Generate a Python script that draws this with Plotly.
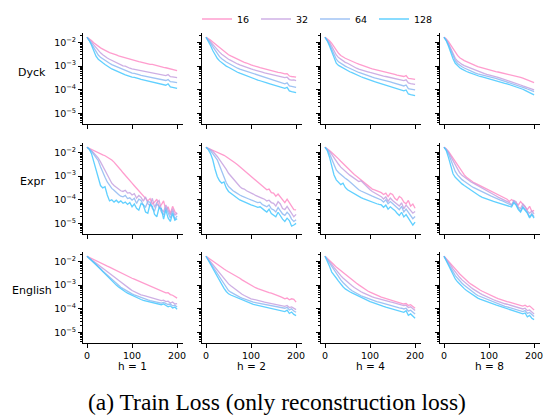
import plotly.graph_objects as go

# ---------------- data (log10 of train loss, every 5 steps) ----------------
steps = list(range(0, 201, 5))
widths = ["16", "32", "64", "128"]
heads = ["h = 1", "h = 2", "h = 4", "h = 8"]
datasets = ["Dyck", "Expr", "English"]
ytick_vals = [1e-5, 1e-4, 1e-3, 1e-2]
ytick_text = ["10<sup>−5</sup>", "10<sup>−4</sup>", "10<sup>−3</sup>", "10<sup>−2</sup>"]
xtick_vals = [0, 100, 200]

dyck_h1_16 = [-1.78,-1.84,-1.92,-2.01,-2.09,-2.16,-2.23,-2.28,-2.34,-2.38,-2.43,-2.46,-2.51,-2.53,-2.57,-2.60,-2.62,-2.66,-2.68,-2.72,-2.73,-2.77,-2.78,-2.81,-2.83,-2.86,-2.87,-2.90,-2.93,-2.93,-2.96,-2.99,-3.00,-3.04,-3.05,-3.07,-3.09,-3.12,-3.15,-3.16,-3.19]
dyck_h1_32 = [-1.78,-1.87,-1.98,-2.10,-2.22,-2.34,-2.44,-2.52,-2.60,-2.66,-2.71,-2.76,-2.82,-2.86,-2.91,-2.95,-2.99,-3.00,-3.06,-3.09,-3.12,-3.14,-3.16,-3.15,-3.19,-3.21,-3.22,-3.25,-3.27,-3.28,-3.30,-3.33,-3.34,-3.36,-3.38,-3.40,-3.36,-3.45,-3.46,-3.47,-3.49]
dyck_h1_64 = [-1.78,-1.90,-2.06,-2.22,-2.38,-2.53,-2.63,-2.70,-2.77,-2.83,-2.88,-2.94,-2.98,-3.04,-3.08,-3.13,-3.15,-3.20,-3.24,-3.26,-3.30,-3.31,-3.35,-3.36,-3.39,-3.41,-3.42,-3.46,-3.47,-3.49,-3.51,-3.54,-3.55,-3.58,-3.60,-3.61,-3.57,-3.66,-3.67,-3.68,-3.70]
dyck_h1_128 = [-1.78,-1.92,-2.12,-2.35,-2.58,-2.71,-2.80,-2.86,-2.93,-3.00,-3.05,-3.12,-3.16,-3.21,-3.26,-3.30,-3.33,-3.37,-3.41,-3.44,-3.47,-3.48,-3.52,-3.53,-3.56,-3.58,-3.61,-3.63,-3.66,-3.68,-3.70,-3.73,-3.74,-3.77,-3.79,-3.81,-3.75,-3.88,-3.90,-3.91,-3.94]

dyck_h2_16 = [-1.78,-1.83,-1.90,-1.98,-2.06,-2.14,-2.23,-2.31,-2.39,-2.46,-2.52,-2.57,-2.62,-2.67,-2.72,-2.77,-2.80,-2.84,-2.87,-2.92,-2.95,-2.98,-2.99,-3.03,-3.06,-3.09,-3.12,-3.15,-3.17,-3.20,-3.23,-3.25,-3.27,-3.28,-3.31,-3.33,-3.32,-3.42,-3.44,-3.44,-3.47]
dyck_h2_32 = [-1.78,-1.86,-1.97,-2.08,-2.20,-2.31,-2.41,-2.50,-2.58,-2.65,-2.71,-2.76,-2.82,-2.86,-2.91,-2.95,-2.99,-3.02,-3.05,-3.09,-3.12,-3.15,-3.17,-3.21,-3.23,-3.26,-3.29,-3.31,-3.34,-3.37,-3.40,-3.41,-3.43,-3.45,-3.47,-3.49,-3.47,-3.57,-3.59,-3.58,-3.61]
dyck_h2_64 = [-1.78,-1.89,-2.03,-2.18,-2.34,-2.48,-2.60,-2.69,-2.77,-2.83,-2.88,-2.94,-2.99,-3.04,-3.09,-3.13,-3.16,-3.20,-3.23,-3.27,-3.30,-3.33,-3.35,-3.39,-3.41,-3.44,-3.48,-3.51,-3.54,-3.57,-3.61,-3.63,-3.66,-3.69,-3.72,-3.75,-3.71,-3.84,-3.86,-3.87,-3.90]
dyck_h2_128 = [-1.78,-1.93,-2.13,-2.34,-2.53,-2.67,-2.78,-2.86,-2.93,-3.00,-3.05,-3.11,-3.16,-3.21,-3.26,-3.30,-3.34,-3.38,-3.42,-3.45,-3.49,-3.52,-3.56,-3.59,-3.62,-3.66,-3.69,-3.71,-3.74,-3.77,-3.80,-3.83,-3.85,-3.88,-3.91,-3.94,-3.90,-4.05,-4.08,-4.09,-4.12]

dyck_h4_16 = [-1.78,-1.84,-1.93,-2.04,-2.18,-2.34,-2.46,-2.55,-2.62,-2.67,-2.71,-2.76,-2.80,-2.85,-2.88,-2.92,-2.96,-2.99,-3.02,-3.06,-3.09,-3.12,-3.14,-3.17,-3.20,-3.23,-3.24,-3.26,-3.29,-3.31,-3.33,-3.35,-3.38,-3.40,-3.42,-3.44,-3.40,-3.52,-3.53,-3.53,-3.56]
dyck_h4_32 = [-1.78,-1.87,-2.00,-2.16,-2.35,-2.53,-2.64,-2.72,-2.78,-2.84,-2.88,-2.94,-2.99,-3.04,-3.09,-3.13,-3.15,-3.18,-3.21,-3.24,-3.27,-3.30,-3.33,-3.35,-3.38,-3.40,-3.42,-3.44,-3.46,-3.47,-3.49,-3.52,-3.54,-3.57,-3.59,-3.61,-3.58,-3.71,-3.74,-3.74,-3.77]
dyck_h4_64 = [-1.78,-1.90,-2.07,-2.28,-2.51,-2.71,-2.82,-2.89,-2.95,-3.00,-3.05,-3.10,-3.14,-3.19,-3.23,-3.27,-3.30,-3.34,-3.37,-3.41,-3.44,-3.47,-3.50,-3.52,-3.55,-3.58,-3.60,-3.63,-3.65,-3.67,-3.70,-3.73,-3.75,-3.78,-3.81,-3.84,-3.80,-3.95,-3.97,-3.98,-4.01]
dyck_h4_128 = [-1.78,-1.93,-2.15,-2.42,-2.68,-2.88,-2.97,-3.03,-3.09,-3.14,-3.19,-3.24,-3.28,-3.33,-3.37,-3.41,-3.45,-3.49,-3.53,-3.57,-3.61,-3.63,-3.66,-3.69,-3.72,-3.75,-3.78,-3.81,-3.84,-3.87,-3.90,-3.93,-3.96,-3.99,-4.02,-4.05,-4.01,-4.18,-4.21,-4.22,-4.25]

dyck_h8_16 = [-1.78,-1.85,-1.97,-2.12,-2.28,-2.43,-2.55,-2.65,-2.72,-2.77,-2.81,-2.86,-2.90,-2.94,-2.98,-3.02,-3.05,-3.07,-3.10,-3.13,-3.16,-3.18,-3.20,-3.23,-3.25,-3.27,-3.29,-3.31,-3.33,-3.35,-3.37,-3.40,-3.43,-3.46,-3.48,-3.51,-3.55,-3.60,-3.63,-3.66,-3.70]
dyck_h8_32 = [-1.78,-1.88,-2.05,-2.26,-2.48,-2.67,-2.79,-2.87,-2.93,-2.98,-3.02,-3.07,-3.11,-3.15,-3.19,-3.23,-3.26,-3.29,-3.32,-3.35,-3.37,-3.40,-3.43,-3.46,-3.48,-3.51,-3.54,-3.57,-3.60,-3.62,-3.65,-3.69,-3.73,-3.76,-3.80,-3.84,-3.88,-3.92,-3.95,-3.98,-4.01]
dyck_h8_64 = [-1.78,-1.90,-2.09,-2.33,-2.57,-2.77,-2.89,-2.97,-3.03,-3.08,-3.13,-3.18,-3.22,-3.26,-3.30,-3.33,-3.35,-3.37,-3.40,-3.42,-3.44,-3.47,-3.50,-3.52,-3.55,-3.58,-3.61,-3.64,-3.66,-3.69,-3.72,-3.76,-3.79,-3.83,-3.86,-3.90,-3.93,-3.97,-4.01,-4.04,-4.08]
dyck_h8_128 = [-1.78,-1.93,-2.16,-2.44,-2.69,-2.88,-2.99,-3.07,-3.13,-3.19,-3.23,-3.27,-3.31,-3.35,-3.38,-3.41,-3.44,-3.46,-3.49,-3.52,-3.54,-3.57,-3.60,-3.63,-3.65,-3.68,-3.70,-3.73,-3.75,-3.78,-3.80,-3.84,-3.87,-3.91,-3.94,-3.98,-4.03,-4.08,-4.13,-4.17,-4.22]

expr_h1_16 = [-1.78,-1.83,-1.88,-1.92,-1.97,-2.02,-2.06,-2.10,-2.14,-2.19,-2.24,-2.32,-2.41,-2.51,-2.62,-2.74,-2.86,-2.98,-3.10,-3.20,-3.30,-3.41,-3.52,-3.62,-3.72,-3.82,-3.92,-4.05,-3.95,-4.18,-4.10,-3.98,-4.30,-4.22,-4.05,-4.45,-4.30,-4.58,-4.28,-4.50,-4.62]
expr_h1_32 = [-1.78,-1.84,-1.92,-2.02,-2.13,-2.24,-2.40,-2.58,-2.78,-2.95,-3.15,-3.30,-3.40,-3.48,-3.55,-3.62,-3.65,-3.60,-3.72,-3.70,-3.80,-3.74,-3.93,-3.82,-3.90,-4.06,-3.88,-4.17,-4.26,-3.94,-4.32,-4.12,-4.03,-4.40,-4.52,-4.22,-4.44,-4.64,-4.38,-4.66,-4.55]
expr_h1_64 = [-1.78,-1.85,-1.95,-2.08,-2.22,-2.35,-2.60,-2.85,-3.05,-3.25,-3.40,-3.52,-3.60,-3.70,-3.78,-3.85,-3.88,-3.82,-3.95,-3.92,-4.02,-3.94,-4.16,-3.98,-4.03,-4.22,-4.31,-4.08,-4.11,-4.37,-4.47,-4.18,-4.28,-4.52,-4.64,-4.33,-4.57,-4.77,-4.48,-4.82,-4.68]
expr_h1_128 = [-1.78,-1.86,-2.05,-2.40,-2.80,-3.15,-3.40,-3.50,-3.45,-3.80,-4.05,-4.00,-4.10,-4.02,-4.12,-4.05,-4.15,-4.10,-4.20,-4.12,-4.30,-4.18,-4.36,-4.44,-4.16,-4.22,-4.52,-4.57,-4.18,-4.28,-4.62,-4.72,-4.33,-4.38,-4.82,-4.43,-4.77,-4.92,-4.58,-4.87,-4.80]

expr_h2_16 = [-1.78,-1.82,-1.86,-1.90,-1.93,-1.97,-2.02,-2.07,-2.12,-2.18,-2.24,-2.31,-2.38,-2.45,-2.52,-2.60,-2.68,-2.76,-2.85,-2.93,-3.02,-3.10,-3.18,-3.27,-3.35,-3.44,-3.50,-3.58,-3.55,-3.70,-3.72,-3.85,-3.76,-3.88,-4.02,-4.12,-3.98,-4.13,-4.27,-4.42,-4.43]
expr_h2_32 = [-1.78,-1.82,-1.88,-1.95,-2.05,-2.17,-2.30,-2.43,-2.58,-2.72,-2.88,-3.00,-3.12,-3.24,-3.35,-3.44,-3.52,-3.55,-3.62,-3.66,-3.72,-3.76,-3.82,-3.85,-3.90,-3.94,-3.98,-4.05,-4.02,-4.12,-4.15,-4.27,-4.08,-4.18,-4.37,-4.42,-4.28,-4.43,-4.57,-4.72,-4.62]
expr_h2_64 = [-1.78,-1.84,-1.93,-2.05,-2.18,-2.31,-2.55,-2.80,-3.05,-3.28,-3.44,-3.55,-3.62,-3.68,-3.75,-3.80,-3.85,-3.88,-3.93,-3.97,-4.01,-4.05,-4.08,-4.12,-4.10,-4.20,-4.25,-4.30,-4.22,-4.38,-4.43,-4.52,-4.33,-4.46,-4.60,-4.66,-4.53,-4.63,-4.82,-4.92,-4.85]
expr_h2_128 = [-1.78,-1.88,-2.05,-2.31,-2.70,-3.02,-3.20,-3.30,-3.25,-3.50,-3.65,-3.72,-3.80,-3.88,-3.95,-4.01,-4.05,-4.10,-4.12,-4.18,-4.22,-4.25,-4.28,-4.32,-4.30,-4.36,-4.45,-4.52,-4.40,-4.58,-4.64,-4.72,-4.53,-4.70,-4.82,-4.92,-4.78,-4.88,-5.12,-5.07,-5.00]

expr_h4_16 = [-1.78,-1.84,-1.92,-2.00,-2.08,-2.17,-2.27,-2.37,-2.47,-2.57,-2.67,-2.76,-2.85,-2.93,-3.01,-3.09,-3.18,-3.27,-3.35,-3.43,-3.50,-3.55,-3.58,-3.62,-3.66,-3.70,-3.78,-3.72,-3.87,-3.73,-3.78,-3.94,-4.02,-3.86,-3.93,-4.10,-4.17,-4.03,-4.27,-4.18,-4.36]
expr_h4_32 = [-1.78,-1.85,-1.95,-2.08,-2.23,-2.38,-2.50,-2.62,-2.72,-2.80,-2.88,-2.96,-3.03,-3.10,-3.17,-3.23,-3.20,-3.30,-3.40,-3.50,-3.58,-3.65,-3.70,-3.76,-3.82,-3.87,-3.97,-3.88,-4.07,-3.93,-4.03,-4.10,-4.17,-4.27,-4.13,-4.38,-4.23,-4.33,-4.47,-4.57,-4.50]
expr_h4_64 = [-1.78,-1.88,-2.05,-2.31,-2.55,-2.74,-2.85,-2.94,-3.02,-3.09,-3.16,-3.25,-3.34,-3.43,-3.51,-3.58,-3.63,-3.68,-3.72,-3.76,-3.80,-3.85,-3.89,-3.93,-3.97,-4.01,-4.10,-4.00,-4.17,-4.08,-4.16,-4.24,-4.32,-4.42,-4.28,-4.52,-4.40,-4.53,-4.67,-4.80,-4.71]
expr_h4_128 = [-1.78,-1.92,-2.20,-2.60,-2.95,-3.16,-3.28,-3.36,-3.30,-3.48,-3.58,-3.64,-3.70,-3.76,-3.82,-3.87,-3.91,-3.95,-3.99,-4.03,-4.08,-4.11,-4.14,-4.17,-4.20,-4.22,-4.32,-4.23,-4.40,-4.30,-4.38,-4.45,-4.57,-4.67,-4.53,-4.73,-4.63,-4.78,-4.92,-5.07,-4.95]

expr_h8_16 = [-1.78,-1.85,-1.96,-2.10,-2.26,-2.42,-2.57,-2.71,-2.84,-2.95,-3.05,-3.13,-3.20,-3.26,-3.31,-3.36,-3.41,-3.46,-3.51,-3.56,-3.61,-3.66,-3.71,-3.76,-3.81,-3.85,-3.90,-3.94,-3.98,-4.07,-3.99,-4.06,-4.14,-4.22,-4.08,-4.20,-4.32,-4.42,-4.28,-4.50,-4.45]
expr_h8_32 = [-1.78,-1.86,-2.00,-2.18,-2.36,-2.55,-2.72,-2.86,-2.97,-3.05,-3.12,-3.19,-3.25,-3.30,-3.35,-3.40,-3.45,-3.50,-3.55,-3.60,-3.65,-3.71,-3.77,-3.83,-3.89,-3.94,-3.99,-4.03,-4.08,-4.12,-4.22,-4.03,-4.08,-4.32,-4.37,-4.18,-4.28,-4.47,-4.57,-4.48,-4.60]
expr_h8_64 = [-1.78,-1.88,-2.06,-2.32,-2.58,-2.80,-2.95,-3.06,-3.15,-3.22,-3.30,-3.36,-3.42,-3.48,-3.53,-3.58,-3.63,-3.67,-3.71,-3.76,-3.80,-3.85,-3.89,-3.94,-3.98,-4.02,-4.05,-4.10,-4.15,-4.20,-4.24,-4.08,-4.18,-4.37,-4.47,-4.28,-4.38,-4.52,-4.72,-4.58,-4.72]
expr_h8_128 = [-1.78,-1.92,-2.22,-2.60,-2.90,-3.05,-3.15,-3.25,-3.33,-3.40,-3.47,-3.53,-3.60,-3.67,-3.74,-3.80,-3.85,-3.90,-3.94,-3.98,-4.01,-4.04,-4.07,-4.10,-4.13,-4.15,-4.18,-4.22,-4.26,-4.30,-4.31,-4.13,-4.23,-4.42,-4.52,-4.33,-4.43,-4.57,-4.77,-4.63,-4.78]

english_h1_16 = [-1.78,-1.83,-1.88,-1.92,-1.98,-2.03,-2.07,-2.12,-2.15,-2.20,-2.24,-2.29,-2.34,-2.38,-2.43,-2.48,-2.53,-2.57,-2.62,-2.66,-2.71,-2.75,-2.79,-2.83,-2.87,-2.91,-2.96,-3.00,-3.04,-3.09,-3.13,-3.17,-3.21,-3.25,-3.29,-3.33,-3.32,-3.40,-3.43,-3.48,-3.55]
english_h1_32 = [-1.78,-1.85,-1.92,-1.99,-2.07,-2.14,-2.21,-2.28,-2.34,-2.41,-2.48,-2.56,-2.64,-2.72,-2.80,-2.88,-2.95,-3.02,-3.09,-3.16,-3.23,-3.28,-3.33,-3.37,-3.41,-3.44,-3.47,-3.50,-3.53,-3.56,-3.58,-3.61,-3.63,-3.66,-3.64,-3.70,-3.68,-3.76,-3.72,-3.80,-3.78]
english_h1_64 = [-1.78,-1.86,-1.94,-2.03,-2.12,-2.21,-2.30,-2.40,-2.49,-2.58,-2.67,-2.76,-2.85,-2.93,-3.01,-3.09,-3.15,-3.21,-3.27,-3.32,-3.37,-3.41,-3.45,-3.49,-3.54,-3.58,-3.61,-3.63,-3.66,-3.68,-3.70,-3.72,-3.74,-3.76,-3.73,-3.78,-3.82,-3.80,-3.88,-3.85,-3.93]
english_h1_128 = [-1.78,-1.86,-1.95,-2.05,-2.14,-2.24,-2.34,-2.44,-2.54,-2.64,-2.74,-2.83,-2.92,-3.00,-3.08,-3.16,-3.22,-3.28,-3.34,-3.39,-3.44,-3.48,-3.53,-3.57,-3.61,-3.65,-3.67,-3.70,-3.72,-3.73,-3.75,-3.78,-3.80,-3.83,-3.80,-3.86,-3.92,-3.88,-3.97,-3.93,-4.02]

english_h2_16 = [-1.78,-1.85,-1.92,-1.98,-2.06,-2.14,-2.20,-2.26,-2.32,-2.38,-2.43,-2.49,-2.54,-2.60,-2.65,-2.71,-2.78,-2.84,-2.90,-2.96,-3.02,-3.07,-3.11,-3.15,-3.19,-3.23,-3.26,-3.29,-3.32,-3.34,-3.37,-3.41,-3.45,-3.49,-3.53,-3.58,-3.55,-3.62,-3.58,-3.60,-3.72]
english_h2_32 = [-1.78,-1.90,-2.02,-2.14,-2.26,-2.38,-2.50,-2.62,-2.73,-2.84,-2.95,-3.03,-3.11,-3.19,-3.26,-3.33,-3.39,-3.44,-3.49,-3.54,-3.58,-3.60,-3.63,-3.65,-3.68,-3.70,-3.72,-3.74,-3.76,-3.78,-3.80,-3.82,-3.84,-3.86,-3.88,-3.90,-3.86,-3.95,-3.92,-3.98,-4.04]
english_h2_64 = [-1.78,-1.93,-2.08,-2.23,-2.38,-2.53,-2.68,-2.83,-2.97,-3.10,-3.23,-3.30,-3.36,-3.41,-3.46,-3.51,-3.55,-3.59,-3.63,-3.67,-3.70,-3.72,-3.74,-3.76,-3.78,-3.80,-3.81,-3.83,-3.84,-3.86,-3.87,-3.89,-3.91,-3.94,-3.96,-3.98,-3.94,-4.05,-4.00,-4.10,-4.15]
english_h2_128 = [-1.78,-1.95,-2.14,-2.33,-2.51,-2.67,-2.84,-3.00,-3.14,-3.27,-3.37,-3.42,-3.46,-3.50,-3.54,-3.58,-3.63,-3.67,-3.72,-3.76,-3.80,-3.82,-3.84,-3.86,-3.88,-3.90,-3.92,-3.94,-3.97,-3.99,-4.01,-4.03,-4.05,-4.08,-4.10,-4.12,-4.06,-4.20,-4.14,-4.24,-4.29]

english_h4_16 = [-1.78,-1.86,-1.95,-2.04,-2.14,-2.24,-2.32,-2.40,-2.47,-2.55,-2.62,-2.70,-2.77,-2.85,-2.92,-2.99,-3.06,-3.13,-3.19,-3.25,-3.30,-3.35,-3.39,-3.43,-3.47,-3.51,-3.54,-3.57,-3.60,-3.62,-3.65,-3.68,-3.71,-3.74,-3.77,-3.80,-3.78,-3.86,-3.83,-3.92,-3.98]
english_h4_32 = [-1.78,-1.88,-2.00,-2.12,-2.25,-2.38,-2.49,-2.60,-2.70,-2.79,-2.88,-2.96,-3.03,-3.10,-3.17,-3.23,-3.28,-3.33,-3.38,-3.43,-3.47,-3.50,-3.53,-3.56,-3.58,-3.61,-3.63,-3.66,-3.68,-3.71,-3.73,-3.76,-3.79,-3.82,-3.85,-3.87,-3.85,-3.95,-3.92,-4.02,-4.08]
english_h4_64 = [-1.78,-1.92,-2.08,-2.23,-2.39,-2.53,-2.66,-2.78,-2.89,-2.99,-3.09,-3.17,-3.24,-3.30,-3.36,-3.41,-3.45,-3.49,-3.53,-3.57,-3.61,-3.64,-3.67,-3.70,-3.72,-3.75,-3.77,-3.80,-3.82,-3.85,-3.87,-3.90,-3.93,-3.96,-3.98,-4.01,-3.98,-4.10,-4.06,-4.15,-4.22]
english_h4_128 = [-1.78,-1.97,-2.20,-2.45,-2.60,-2.70,-2.83,-2.96,-3.07,-3.16,-3.23,-3.28,-3.33,-3.38,-3.43,-3.47,-3.52,-3.57,-3.62,-3.66,-3.70,-3.73,-3.77,-3.80,-3.84,-3.87,-3.90,-3.93,-3.96,-3.99,-4.01,-4.04,-4.07,-4.10,-4.12,-4.15,-4.08,-4.28,-4.22,-4.32,-4.40]

english_h8_16 = [-1.78,-1.88,-1.98,-2.09,-2.20,-2.31,-2.42,-2.53,-2.63,-2.72,-2.81,-2.89,-2.96,-3.03,-3.10,-3.16,-3.21,-3.26,-3.31,-3.36,-3.41,-3.45,-3.49,-3.53,-3.57,-3.61,-3.64,-3.67,-3.70,-3.72,-3.75,-3.78,-3.81,-3.84,-3.86,-3.89,-3.85,-3.92,-3.88,-3.98,-4.05]
english_h8_32 = [-1.78,-1.90,-2.03,-2.17,-2.31,-2.45,-2.57,-2.68,-2.78,-2.87,-2.95,-3.03,-3.10,-3.17,-3.24,-3.30,-3.35,-3.40,-3.45,-3.50,-3.55,-3.59,-3.62,-3.66,-3.70,-3.73,-3.76,-3.79,-3.81,-3.84,-3.87,-3.90,-3.93,-3.96,-3.98,-4.01,-3.98,-4.08,-4.05,-4.15,-4.22]
english_h8_64 = [-1.78,-1.93,-2.09,-2.26,-2.43,-2.60,-2.72,-2.83,-2.92,-3.01,-3.09,-3.17,-3.24,-3.31,-3.38,-3.44,-3.48,-3.53,-3.57,-3.61,-3.65,-3.69,-3.73,-3.77,-3.80,-3.84,-3.87,-3.90,-3.92,-3.95,-3.98,-4.01,-4.04,-4.06,-4.09,-4.12,-4.08,-4.20,-4.16,-4.26,-4.33]
english_h8_128 = [-1.78,-1.97,-2.19,-2.40,-2.58,-2.74,-2.86,-2.97,-3.07,-3.15,-3.23,-3.30,-3.37,-3.44,-3.50,-3.55,-3.59,-3.63,-3.67,-3.71,-3.75,-3.78,-3.81,-3.84,-3.87,-3.90,-3.93,-3.96,-3.99,-4.01,-4.04,-4.07,-4.11,-4.15,-4.19,-4.22,-4.18,-4.34,-4.28,-4.40,-4.46]

series = {
    "Dyck": [[dyck_h1_16, dyck_h1_32, dyck_h1_64, dyck_h1_128],
             [dyck_h2_16, dyck_h2_32, dyck_h2_64, dyck_h2_128],
             [dyck_h4_16, dyck_h4_32, dyck_h4_64, dyck_h4_128],
             [dyck_h8_16, dyck_h8_32, dyck_h8_64, dyck_h8_128]],
    "Expr": [[expr_h1_16, expr_h1_32, expr_h1_64, expr_h1_128],
             [expr_h2_16, expr_h2_32, expr_h2_64, expr_h2_128],
             [expr_h4_16, expr_h4_32, expr_h4_64, expr_h4_128],
             [expr_h8_16, expr_h8_32, expr_h8_64, expr_h8_128]],
    "English": [[english_h1_16, english_h1_32, english_h1_64, english_h1_128],
                [english_h2_16, english_h2_32, english_h2_64, english_h2_128],
                [english_h4_16, english_h4_32, english_h4_64, english_h4_128],
                [english_h8_16, english_h8_32, english_h8_64, english_h8_128]],
}

# ---------------- style ----------------
W, H = 544, 419
colors = ["#ff8cc6", "#c6a2e0", "#8fb9f2", "#45c8ff"]
FONT = "DejaVu Sans"
col_left = [82.5, 201.5, 320.5, 439.5]
col_w = 100
row_top = [33, 143, 252]
row_h = 91

minor_vals = [m * 10.0 ** e for e in range(-6, -1) for m in range(2, 10)]
minor_vals = [v for v in minor_vals if 10 ** -5.45 < v < 10 ** -1.6]

fig = go.Figure()
for r, ds in enumerate(datasets):
    for c in range(4):
        k = r * 4 + c + 1
        xa = "x" if k == 1 else f"x{k}"
        ya = "y" if k == 1 else f"y{k}"
        for i, wname in enumerate(widths):
            vals = series[ds][c][i]
            fig.add_trace(go.Scatter(
                x=steps, y=[10 ** v for v in vals], mode="lines",
                line=dict(color=colors[i], width=1.3), opacity=0.85,
                name=wname, legendgroup=wname, showlegend=(k == 1),
                xaxis=xa, yaxis=ya, hoverinfo="skip"))
        x0 = col_left[c] / W
        x1 = (col_left[c] + col_w) / W
        y1 = 1 - row_top[r] / H
        y0 = 1 - (row_top[r] + row_h) / H
        xkey = "xaxis" if k == 1 else f"xaxis{k}"
        ykey = "yaxis" if k == 1 else f"yaxis{k}"
        fig.update_layout(**{
            xkey: dict(domain=[x0, x1], anchor=ya, range=[-10, 212],
                       tickvals=xtick_vals,
                       showticklabels=(r == 2), ticks="outside", ticklen=3.5, tickwidth=1,
                       tickcolor="black", showline=True, linecolor="black", linewidth=1,
                       showgrid=False, zeroline=False,
                       tickfont=dict(family=FONT, size=9.5, color="black")),
            ykey: dict(domain=[y0, y1], anchor=xa, type="log", range=[-5.45, -1.6],
                       tickvals=ytick_vals, ticktext=ytick_text, showticklabels=(c == 0),
                       ticks="outside", ticklen=3.5, tickwidth=1, tickcolor="black",
                       minor=dict(tickvals=minor_vals, ticks="outside", ticklen=2,
                                  tickwidth=0.6, tickcolor="black"),
                       showline=True, linecolor="black", linewidth=1,
                       showgrid=False, zeroline=False,
                       tickfont=dict(family=FONT, size=9.5, color="black")),
        })

annotations = []
row_label_y = [72.7, 181.7, 290.7]
for r, ds in enumerate(datasets):
    annotations.append(dict(text=ds, x=32 / W, y=1 - row_label_y[r] / H, xref="paper", yref="paper",
                            xanchor="center", yanchor="middle", showarrow=False,
                            font=dict(family=FONT, size=11, color="black")))
for c, hname in enumerate(heads):
    annotations.append(dict(text=hname, x=(col_left[c] + col_w / 2) / W, y=1 - 365.7 / H,
                            xref="paper", yref="paper", xanchor="center", yanchor="middle",
                            showarrow=False, font=dict(family=FONT, size=10.5, color="black")))
annotations.append(dict(text="(a) Train Loss (only reconstruction loss)", x=277 / W, y=1 - 402 / H,
                        xref="paper", yref="paper", xanchor="center", yanchor="middle",
                        showarrow=False, font=dict(family="Liberation Serif", size=23.5, color="black")))

fig.update_layout(
    width=W, height=H, margin=dict(l=0, r=0, t=0, b=0, autoexpand=False),
    paper_bgcolor="white", plot_bgcolor="white",
    annotations=annotations,
    legend=dict(orientation="h", x=197 / W, y=1 - 19 / H, xanchor="left", yanchor="middle",
                font=dict(family=FONT, size=9.5, color="black"),
                entrywidth=14, entrywidthmode="pixels", itemwidth=30,
                bgcolor="rgba(0,0,0,0)", tracegroupgap=0),
)

fig.write_html("out.html", config={"displayModeBar": False},
               post_script="document.body.style.margin='0px';document.body.style.overflow='hidden';")
